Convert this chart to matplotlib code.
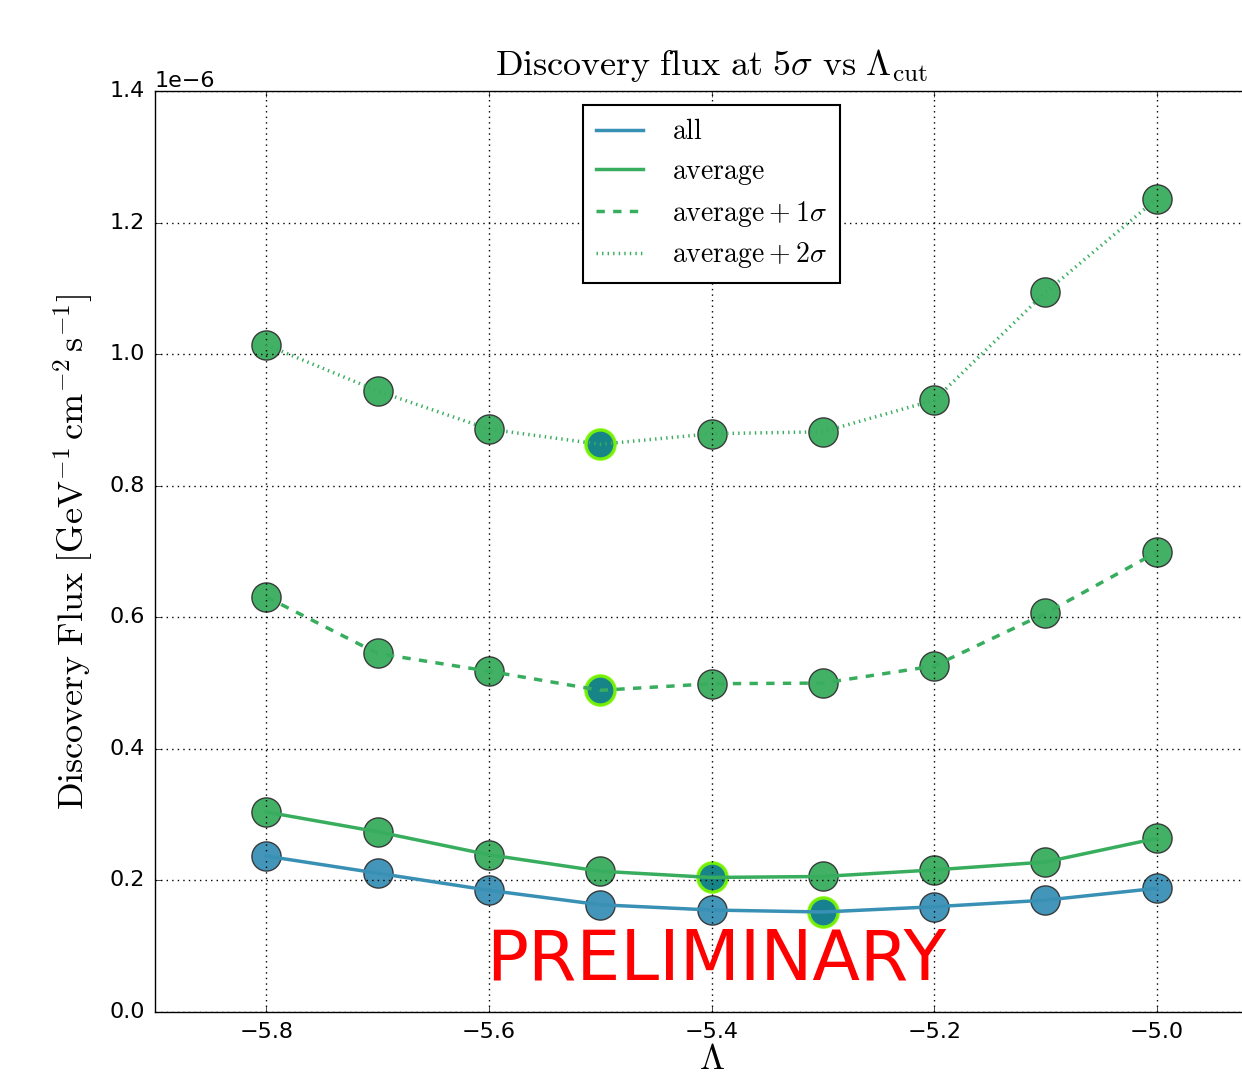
import matplotlib
matplotlib.use('Agg')
import matplotlib.pyplot as plt
import numpy as np

plt.style.use('classic')
plt.rcParams['mathtext.fontset'] = 'cm'
plt.rcParams['font.size'] = 16
plt.rcParams['axes.unicode_minus'] = True

# Lambda cut values
lam = [-5.8, -5.7, -5.6, -5.5, -5.4, -5.3, -5.2, -5.1, -5.0]

# discovery flux (units of 1e-6 GeV^-1 cm^-2 s^-1)
flux_all = [0.237, 0.211, 0.185, 0.163, 0.155, 0.152, 0.160, 0.170, 0.188]
flux_avg = [0.304, 0.274, 0.239, 0.214, 0.2045, 0.206, 0.216, 0.228, 0.264]
flux_avg1 = [0.631, 0.545, 0.518, 0.489, 0.499, 0.500, 0.526, 0.606, 0.699]
flux_avg2 = [1.014, 0.944, 0.886, 0.863, 0.879, 0.882, 0.930, 1.094, 1.236]

series = [
    (flux_all, '#3990b5', '-', r'$\mathrm{all}$'),
    (flux_avg, '#38ad5e', '-', r'$\mathrm{average}$'),
    (flux_avg1, '#38ad5e', '--', r'$\mathrm{average} + 1\sigma$'),
    (flux_avg2, '#38ad5e', ':', r'$\mathrm{average} + 2\sigma$'),
]

fig = plt.figure(figsize=(12.42, 10.82), dpi=100, facecolor='white')
ax = fig.add_axes([0.1248, 0.0647, 0.8962, 0.8512])

for vals, col, ls, lab in series:
    y = np.array(vals) * 1e-6
    ax.plot(lam, y, ls='none', marker='o', ms=21, mfc=col, mec='#333333',
            mew=1.0, alpha=0.95, zorder=2)
    # highlight the minimum of each curve
    i = int(np.argmin(vals))
    ax.plot(lam[i], y[i], ls='none', marker='o', ms=21, mfc='#137f8c',
            mec='#7cfc00', mew=2.5, alpha=0.9, zorder=2)
    ax.plot(lam, y, ls=ls, color=col, lw=2.5, label=lab, zorder=3)

ax.set_xlim(-5.9, -4.9)
ax.set_ylim(0, 1.4e-6)
ax.set_xticks([-5.8, -5.6, -5.4, -5.2, -5.0])
ax.set_yticks(np.arange(0, 1.41, 0.2) * 1e-6)
ax.ticklabel_format(style='sci', axis='y', scilimits=(0, 0))
ax.tick_params(labelsize=16, pad=7)
ax.yaxis.get_offset_text().set_fontsize(16)
ax.grid(True, color='black', ls=':', lw=1)

ax.set_title(r'$\mathrm{Discovery\ flux\ at\ 5}\sigma\mathrm{\ vs\ }\Lambda_{\mathrm{cut}}$',
             fontsize=26, y=1.01)
ax.set_xlabel(r'$\Lambda$', fontsize=26, labelpad=0)
ax.set_ylabel(r'$\mathrm{Discovery\ Flux}\ [\mathrm{GeV}^{-1}\,\mathrm{cm}^{-2}\,\mathrm{s}^{-1}]$',
              fontsize=26, labelpad=10)

leg = ax.legend(loc='upper center', bbox_to_anchor=(0.5, 1.0), fontsize=20,
                handlelength=1.7, handletextpad=1.05, borderpad=0.45,
                labelspacing=0.42, numpoints=1)
leg.get_frame().set_linewidth(1.5)

ax.text(0.504, 0.056, 'PRELIMINARY', transform=ax.transAxes, color='red',
        fontsize=50, ha='center', va='center', family='DejaVu Sans')

fig.savefig('out.png', dpi=100)
